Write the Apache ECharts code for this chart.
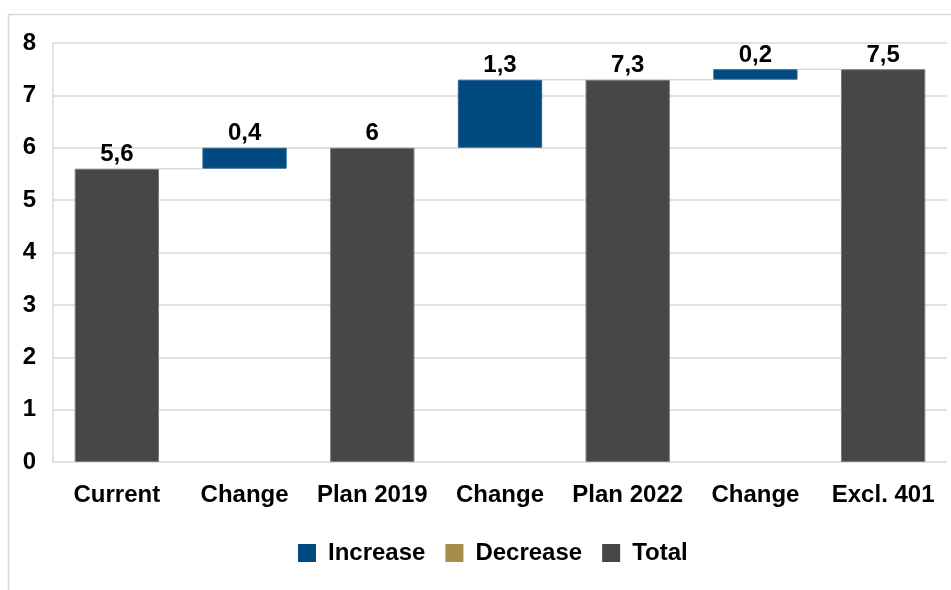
<!DOCTYPE html>
<html>
<head>
<meta charset="utf-8">
<script src="https://cdn.jsdelivr.net/npm/echarts@6/dist/echarts.min.js"></script>
<style>
  html, body { margin: 0; padding: 0; background: #ffffff; }
  #chart { width: 951px; height: 590px; }
</style>
</head>
<body>
<div id="chart"></div>
<script>
// Waterfall: totals and step changes
const categories = ['Current', 'Change', 'Plan 2019', 'Change', 'Plan 2022', 'Change', 'Excl. 401'];
const increaseValues = [null, 0.4, null, 1.3, null, 0.2, null];
const decreaseValues = [null, null, null, null, null, null, null];
const totalValues = [5.6, null, 6, null, 7.3, null, 7.5];
const yTicks = [0, 1, 2, 3, 4, 5, 6, 7, 8];

// Running level after each column, and the invisible base under each change bar
const levels = [];
const baseValues = [];
let level = 0;
categories.forEach((c, i) => {
  if (totalValues[i] != null) {
    baseValues.push(null);
    level = totalValues[i];
  } else if (increaseValues[i] != null) {
    baseValues.push(level);
    level = level + increaseValues[i];
  } else if (decreaseValues[i] != null) {
    level = level - decreaseValues[i];
    baseValues.push(level);
  } else {
    baseValues.push(null);
  }
  levels.push(level);
});
const connectorData = levels.slice(0, -1).map((v, i) => [i, v]);

const FONT = '"Liberation Sans", Arial, sans-serif';
const BAR_RATIO = 0.66;
const fmt = p => (p.value == null ? '' : String(p.value).replace('.', ','));
const labelStyle = {
  show: true, position: 'top', distance: 2,
  color: '#000', fontFamily: FONT, fontWeight: 'bold', fontSize: 24,
  formatter: fmt
};

const chart = echarts.init(document.getElementById('chart'), null, { renderer: 'canvas' });
chart.setOption({
  animation: false,
  backgroundColor: '#ffffff',
  graphic: [{
    type: 'rect', z: -10, silent: true,
    shape: { x: 8.5, y: 14.5, width: 1200, height: 1200 },
    style: { fill: 'none', stroke: '#d9d9d9', lineWidth: 1.5 }
  }],
  grid: { left: 53, right: 4, top: 43, bottom: 128, containLabel: false },
  legend: {
    left: 293, top: 536,
    itemWidth: 18, itemHeight: 18, itemGap: 20,
    icon: 'rect',
    itemStyle: { borderWidth: 0 },
    data: ['Increase', 'Decrease', 'Total'],
    textStyle: { color: '#000', fontFamily: FONT, fontWeight: 'bold', fontSize: 24, padding: [0, 0, 0, 7] }
  },
  xAxis: {
    type: 'category',
    data: categories,
    axisLine: { show: false },
    axisTick: { show: false },
    axisLabel: { color: '#000', fontFamily: FONT, fontWeight: 'bold', fontSize: 24, margin: 21, interval: 0 }
  },
  yAxis: {
    type: 'value',
    min: yTicks[0], max: yTicks[yTicks.length - 1], interval: 1,
    axisLine: { show: true, lineStyle: { color: '#d9d9d9', width: 1.5 } },
    axisTick: { show: false },
    splitLine: { show: true, lineStyle: { color: '#d9d9d9', width: 1.5 } },
    axisLabel: { color: '#000', fontFamily: FONT, fontWeight: 'bold', fontSize: 24, margin: 17 }
  },
  series: [
    {
      name: 'Connector', type: 'custom', z: 1, silent: true,
      data: connectorData,
      encode: { x: 0, y: 1 },
      renderItem: (params, api) => {
        const i = api.value(0);
        const v = api.value(1);
        const p1 = api.coord([i, v]);
        const p2 = api.coord([i + 1, v]);
        const half = api.size([1, 0])[0] * BAR_RATIO / 2;
        return {
          type: 'line',
          shape: { x1: p1[0] + half, y1: p1[1], x2: p2[0] - half, y2: p2[1] },
          style: { stroke: '#d9d9d9', lineWidth: 1.5 }
        };
      }
    },
    {
      name: 'Base', type: 'bar', stack: 'wf', z: 2,
      barCategoryGap: '34%',
      itemStyle: { color: 'transparent' },
      emphasis: { disabled: true },
      data: baseValues
    },
    {
      name: 'Increase', type: 'bar', stack: 'wf', z: 3,
      itemStyle: { color: '#014a7f', borderColor: '#2a6496', borderWidth: 1 },
      label: labelStyle,
      data: increaseValues
    },
    {
      name: 'Decrease', type: 'bar', stack: 'wf', z: 3,
      itemStyle: { color: '#a88c4a', borderColor: '#b89d60', borderWidth: 1 },
      label: labelStyle,
      data: decreaseValues
    },
    {
      name: 'Total', type: 'bar', stack: 'wf', z: 3,
      itemStyle: { color: '#474747', borderColor: '#7a7a7a', borderWidth: 1 },
      label: labelStyle,
      data: totalValues
    }
  ]
});
</script>
</body>
</html>
